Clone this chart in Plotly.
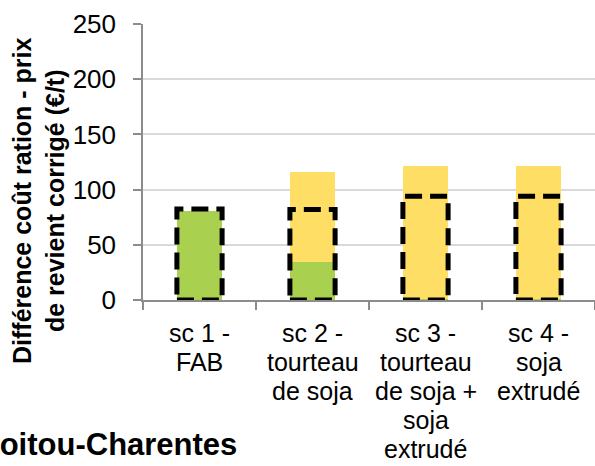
import plotly.graph_objects as go

categories = ["sc 1 - FAB", "sc 2 - tourteau de soja", "sc 3 - tourteau de soja + soja extrudé", "sc 4 - soja extrudé"]
tick_lines = [
    ["sc 1 -", "FAB"],
    ["sc 2 -", "tourteau", "de soja"],
    ["sc 3 -", "tourteau", "de soja +", "soja", "extrudé"],
    ["sc 4 -", "soja", "extrudé"],
]
green_values = [81, 34, 1, 1]
yellow_values = [0, 82, 120.5, 120.5]
dashed_values = [82.5, 82, 94, 94]
y_ticks = [0, 50, 100, 150, 200, 250]
y_title = "Différence coût ration - prix<br>de revient corrigé (€/t)"
region = "Poitou-Charentes"

FONT = "Liberation Sans, Arial, sans-serif"
W, H = 595, 466
L, R, T, B = 143, 0, 24, 166
ph = H - T - B

def py(p):
    return (H - B - p) / ph

def px(p):
    return (p - L) / (W - L - R)

fig = go.Figure()
fig.add_trace(go.Bar(x=categories, y=green_values, marker=dict(color="#A9D04F", line=dict(width=0)), width=0.4))
fig.add_trace(go.Bar(x=categories, y=yellow_values, marker=dict(color="#FFDE66", line=dict(width=0)), width=0.4))

shapes = []
for i, v in enumerate(dashed_values):
    shapes.append(dict(type="rect", xref="x", yref="y", x0=i - 0.2, x1=i + 0.2, y0=0, y1=v,
                       line=dict(color="black", width=5, dash="17px,8px"), layer="above"))

annotations = []
for i, lines in enumerate(tick_lines):
    for j, t in enumerate(lines):
        annotations.append(dict(text=t, xref="x", yref="paper", x=categories[i], y=py(333 + 29 * j),
                                xanchor="center", yanchor="middle", showarrow=False,
                                font=dict(family=FONT, size=25, color="black")))
annotations.append(dict(text="<b>" + y_title + "</b>", xref="paper", yref="paper", x=px(38), y=py(201),
                        xanchor="center", yanchor="middle", textangle=-90, showarrow=False,
                        font=dict(family=FONT, size=25, color="black")))
annotations.append(dict(text="<b>" + region + "</b>", xref="paper", yref="paper", x=px(239), y=py(444),
                        xanchor="right", yanchor="middle", showarrow=False,
                        font=dict(family=FONT, size=31, color="black")))

fig.update_layout(
    width=W, height=H, margin=dict(l=L, r=R, t=T, b=B),
    barmode="stack", showlegend=False, bargap=0.6,
    plot_bgcolor="white", paper_bgcolor="white",
    shapes=shapes, annotations=annotations,
    xaxis=dict(type="category", range=[-0.5, 3.5], showline=True, linecolor="#8c8c8c", linewidth=1.5,
               ticks="outside", tickson="boundaries", ticklen=8, tickcolor="#8c8c8c", tickwidth=1.5,
               showticklabels=False, showgrid=False, zeroline=False),
    yaxis=dict(range=[0, 250], tickvals=y_ticks, showline=True, linecolor="#8c8c8c", linewidth=1.5,
               ticks="outside", ticklen=8, tickcolor="#8c8c8c", tickwidth=1.5,
               gridcolor="#d9d9d9", gridwidth=1.5, zeroline=False, ticklabelstandoff=12,
               tickfont=dict(family=FONT, size=26, color="black")),
)
fig.write_html("out.html", config={"displayModeBar": False},
               post_script="document.body.style.margin='0';document.body.style.overflow='hidden';")
